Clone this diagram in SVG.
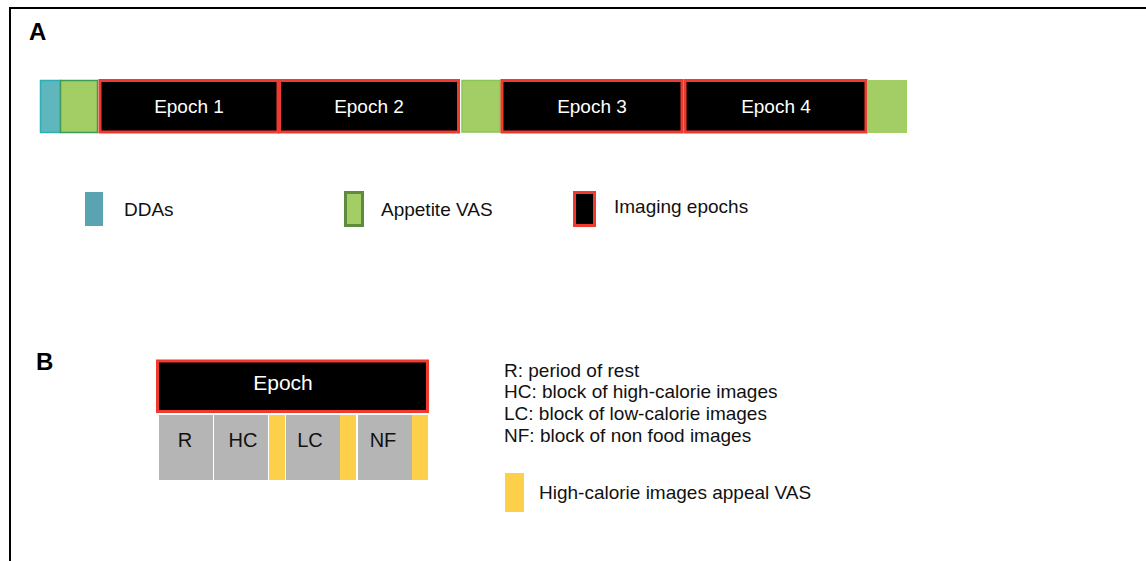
<svg xmlns="http://www.w3.org/2000/svg" width="1146" height="561" viewBox="0 0 1146 561">
<style>
text{font-family:"Liberation Sans",Arial,sans-serif;}
.ep{fill:#000;stroke:#ef3b2f;stroke-width:3;}
.et{fill:#fff;font-size:19px;text-anchor:middle;}
.gr{fill:#a3cd65;stroke:#8cc652;stroke-width:1.5;}
.blk{fill:#b5b5b5;}
.yl{fill:#fdd04c;}
.bt{fill:#111;font-size:20px;text-anchor:middle;}
.lg{fill:#111;font-size:19px;}
.rt{fill:#111;font-size:19px;}
.hd{fill:#000;font-size:24px;font-weight:bold;}
</style>
<g id="frame">
<path d="M10,561 V8 H1146" fill="none" stroke="#000" stroke-width="2"/>
</g>
<g id="connectors"></g>
<text class="hd" x="29" y="40">A</text>
<text class="hd" x="36" y="370">B</text>
<g id="timeline">
<g id="dda"><rect x="40.5" y="80.5" width="20" height="52" fill="#5fb6bd" stroke="#2bb0b5" stroke-width="1.5"/></g>
<g id="vas1"><rect x="60.5" y="80.5" width="37" height="52" fill="#a3cd65" stroke="#3c9c57" stroke-width="1.5"/></g>
<g id="epoch1"><rect class="ep" x="100" y="80.5" width="178" height="51.5"/><text class="et" x="189" y="113">Epoch 1</text></g>
<g id="epoch2"><rect class="ep" x="279.5" y="80.5" width="179" height="51.5"/><text class="et" x="369" y="113">Epoch 2</text></g>
<g id="vas2"><rect class="gr" x="462" y="80.5" width="38" height="51.5"/></g>
<g id="epoch3"><rect class="ep" x="502" y="80.5" width="180" height="51.5"/><text class="et" x="592" y="113">Epoch 3</text></g>
<g id="epoch4"><rect class="ep" x="685" y="80.5" width="181" height="51.5"/><text class="et" x="776" y="113">Epoch 4</text></g>
<g id="vas3"><rect x="868" y="80" width="39" height="53" fill="#a3cd65"/></g>
</g>
<g id="legendA">
<g id="leg-dda"><rect x="85" y="192" width="18" height="34" fill="#5aa4b2"/><text class="lg" x="124" y="216">DDAs</text></g>
<g id="leg-vas"><rect x="345.5" y="192.5" width="17" height="33" fill="#a3cd65" stroke="#5e8b3d" stroke-width="3"/><text class="lg" x="381" y="216">Appetite VAS</text></g>
<g id="leg-ep"><rect class="ep" x="574.5" y="192.5" width="20" height="33"/><text class="lg" x="614" y="213" fill="#333">Imaging epochs</text></g>
</g>
<g id="epochB">
<rect class="ep" x="157.5" y="361" width="270" height="50.5"/><text class="et" x="283" y="390" style="font-size:21px">Epoch</text>
</g>
<g id="blocks">
<g id="b-r"><rect class="blk" x="159" y="415" width="54" height="65"/><text class="bt" x="185" y="447">R</text></g>
<g id="b-hc"><rect class="blk" x="214" y="415" width="54" height="65"/><text class="bt" x="243" y="447">HC</text></g>
<g id="y1"><rect class="yl" x="269" y="415" width="16" height="65"/></g>
<g id="b-lc"><rect class="blk" x="286" y="415" width="54" height="65"/><text class="bt" x="310" y="447">LC</text></g>
<g id="y2"><rect class="yl" x="340" y="415" width="16" height="65"/></g>
<g id="b-nf"><rect class="blk" x="358" y="415" width="54" height="65"/><text class="bt" x="383" y="447">NF</text></g>
<g id="y3"><rect class="yl" x="412" y="415" width="16" height="65"/></g>
</g>
<g id="legendB">
<text class="rt" x="504" y="377">R: period of rest</text>
<text class="rt" x="504" y="398">HC: block of high-calorie images</text>
<text class="rt" x="504" y="420">LC: block of low-calorie images</text>
<text class="rt" x="504" y="442">NF: block of non food images</text>
<g id="leg-yl"><rect class="yl" x="505" y="473" width="19" height="39"/><text class="rt" x="539" y="499">High-calorie images appeal VAS</text></g>
</g>
</svg>
